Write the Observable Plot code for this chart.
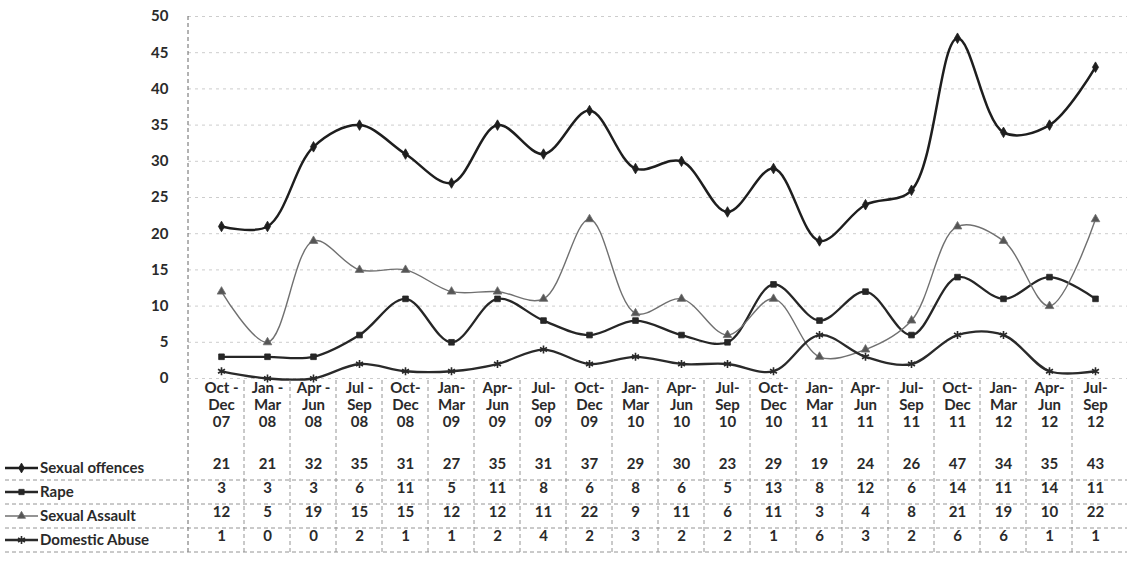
<!DOCTYPE html>
<html>
<head>
<meta charset="utf-8">
<script src="https://cdn.jsdelivr.net/npm/d3@7"></script>
<script src="https://cdn.jsdelivr.net/npm/@observablehq/plot@0.6"></script>
<style>
  html, body { margin: 0; padding: 0; background: #fff; }
  #chart svg { display: block; }
</style>
</head>
<body>
<div id="chart"></div>
<script>
// ---- data ----
const quarterStart = ["Oct -","Jan -","Apr -","Jul -","Oct-","Jan-","Apr-","Jul-","Oct-","Jan-","Apr-","Jul-","Oct-","Jan-","Apr-","Jul-","Oct-","Jan-","Apr-","Jul-"];
const quarterEnd = ["Dec","Mar","Jun","Sep","Dec","Mar","Jun","Sep","Dec","Mar","Jun","Sep","Dec","Mar","Jun","Sep","Dec","Mar","Jun","Sep"];
const years = ["07","08","08","08","08","09","09","09","09","10","10","10","10","11","11","11","11","12","12","12"];
const sexualOffences = [21,21,32,35,31,27,35,31,37,29,30,23,29,19,24,26,47,34,35,43];
const rape = [3,3,3,6,11,5,11,8,6,8,6,5,13,8,12,6,14,11,14,11];
const sexualAssault = [12,5,19,15,15,12,12,11,22,9,11,6,11,3,4,8,21,19,10,22];
const domesticAbuse = [1,0,0,2,1,1,2,4,2,3,2,2,1,6,3,2,6,6,1,1];
const seriesNames = ["Sexual offences","Rape","Sexual Assault","Domestic Abuse"];
const yTicks = [0,5,10,15,20,25,30,35,40,45,50];

// ---- build ----
const cats = quarterStart.map((q, i) => `${q}\n${quarterEnd[i]}\n${years[i]}`);
const seriesValues = [sexualOffences, rape, sexualAssault, domesticAbuse];
const styles = [
  {stroke: "#1e1e1e", width: 2.5, symbol: "diamond", r: 3.2, fill: "#1e1e1e"},
  {stroke: "#262626", width: 2.3, symbol: "square", r: 3.2, fill: "#262626"},
  {stroke: "#707070", width: 1.4, symbol: "triangle", r: 3.2, fill: "#555"},
  {stroke: "#2a2a2a", width: 2.3, symbol: "asterisk", r: 3.8, fill: "none"}
];
const rows = [];
seriesValues.forEach((vals, s) => vals.forEach((v, i) => rows.push({series: seriesNames[s], s, cat: cats[i], v})));

const rowDy = [90, 114, 138, 162];
const font = "Lato, 'Open Sans', sans-serif";
const fs = 15;

const marks = [
  Plot.gridY(yTicks, {stroke: "#9a9a9a", strokeOpacity: 0.55, strokeDasharray: "3,4", strokeWidth: 0.9}),
  Plot.axisY(yTicks, {tickSize: 0, tickPadding: 20, fontSize: fs, fontWeight: "bold", fill: "#2a2a2a", label: null}),
  Plot.text(cats, {x: d => d, text: d => d, frameAnchor: "bottom", lineAnchor: "top", dy: 2, lineHeight: 1.15, fontSize: fs, fontWeight: "bold", fill: "#2a2a2a"})
];
seriesValues.forEach((vals, s) => {
  const data = rows.filter(r => r.s === s);
  const st = styles[s];
  marks.push(Plot.line(data, {x: "cat", y: "v", curve: "catmull-rom", stroke: st.stroke, strokeWidth: st.width}));
  marks.push(Plot.dot(data, {x: "cat", y: "v", symbol: () => st.symbol, r: st.r, fill: st.fill === "none" ? null : st.fill, stroke: st.stroke, strokeWidth: st.fill === "none" ? 1.6 : 0.8}));
  marks.push(Plot.text(data, {x: "cat", text: "v", frameAnchor: "bottom", dy: rowDy[s], fontSize: fs, fontWeight: "bold", fill: "#2a2a2a"}));
});

const plot = Plot.plot({
  width: 1127,
  height: 574,
  marginTop: 16,
  marginBottom: 196,
  marginLeft: 188,
  marginRight: 0,
  style: {fontFamily: font, background: "#fff"},
  x: {domain: cats, type: "band", paddingInner: 0, paddingOuter: 0, axis: null},
  y: {domain: [0, 50], axis: null},
  marks
});
document.getElementById("chart").appendChild(plot);

// ---- table grid and legend keys, positioned from Plot's scales ----
const svg = d3.select(plot);
const xs = plot.scale("x");
const ysc = plot.scale("y");
const y0 = ysc.apply(0);
const left = xs.range[0];
const g = svg.append("g").attr("stroke", "#888").attr("stroke-dasharray", "4,3").attr("stroke-width", 0.9);
const tableTop = y0 + 2, tableBottom = y0 + rowDy[3] + 12;
g.append("line").attr("x1", left).attr("x2", left).attr("y1", ysc.apply(50)).attr("y2", tableBottom).attr("stroke", "#555");
cats.forEach((c, i) => {
  if (i === 0) return;
  const xb = xs.apply(c);
  g.append("line").attr("x1", xb).attr("x2", xb).attr("y1", tableTop).attr("y2", tableBottom);
});
rowDy.forEach((dy, s) => {
  const yy = y0 + dy + 12;
  g.append("line").attr("x1", 5).attr("x2", 1127).attr("y1", yy).attr("y2", yy);
});
const symMap = {diamond: d3.symbolDiamond, square: d3.symbolSquare, triangle: d3.symbolTriangle, asterisk: d3.symbolAsterisk};
const lg = svg.append("g");
seriesNames.forEach((name, s) => {
  const st = styles[s];
  const yy = y0 + rowDy[s];
  lg.append("line").attr("x1", 5).attr("x2", 38).attr("y1", yy).attr("y2", yy).attr("stroke", st.stroke).attr("stroke-width", st.width);
  lg.append("path").attr("transform", `translate(21.5,${yy})`).attr("d", d3.symbol(symMap[st.symbol], st.symbol === "asterisk" ? 45 : 28)())
    .attr("fill", st.fill).attr("stroke", st.stroke).attr("stroke-width", st.fill === "none" ? 1.6 : 0.8);
  lg.append("text").attr("x", 40).attr("y", yy).attr("dy", "0.35em").attr("text-anchor", "start")
    .attr("font-size", fs).attr("font-weight", "bold").attr("fill", "#2a2a2a").attr("font-family", font).text(name);
});
</script>
</body>
</html>
